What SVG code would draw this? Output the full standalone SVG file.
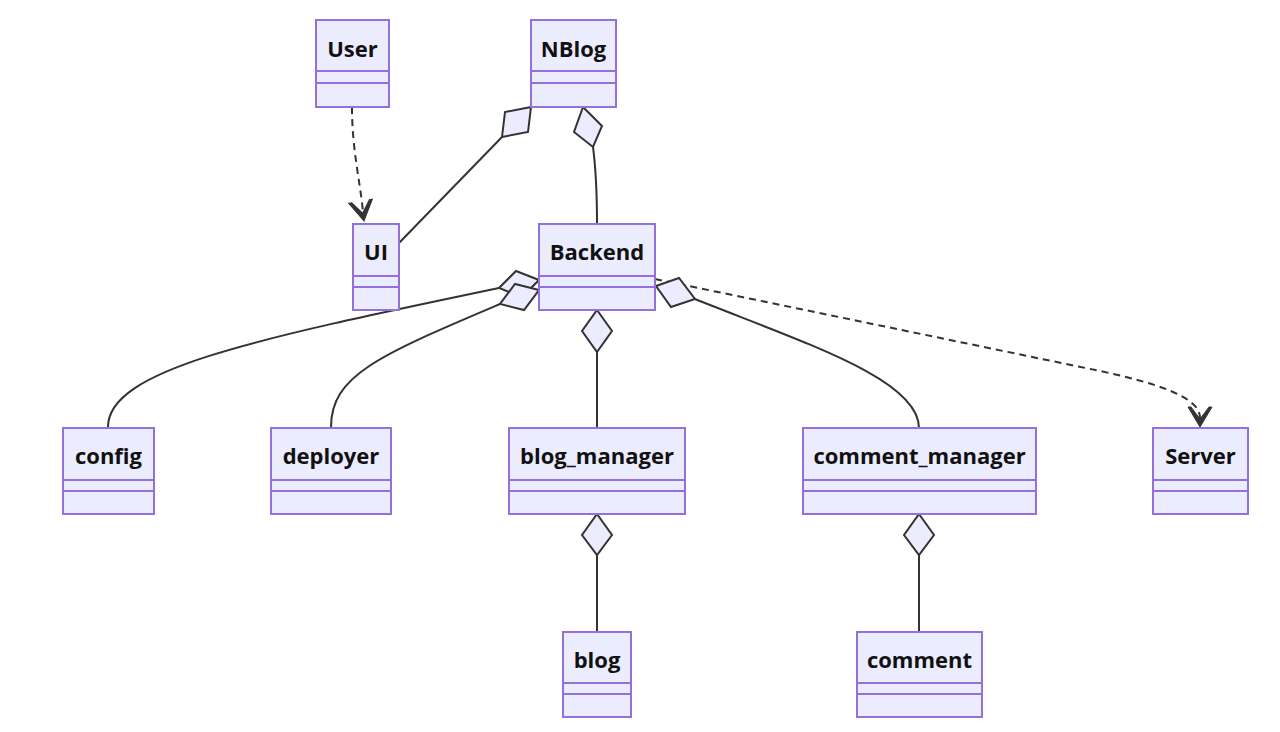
<svg xmlns="http://www.w3.org/2000/svg" xmlns:xlink="http://www.w3.org/1999/xlink" width="1280" height="732" viewBox="0 0 1280 732">
<style>
.box{fill:#ECECFF;stroke:#9370DB;stroke-width:2}
.div{stroke:#9370DB;stroke-width:2}
.lbl{font-family:"Open Sans","Liberation Sans",sans-serif;font-weight:bold;font-size:22px;fill:#111;text-anchor:middle}
.rel{fill:none;stroke:#333;stroke-width:2}
.dash{fill:none;stroke:#333;stroke-width:2;stroke-dasharray:7 5}
.dia{fill:#ECECFF;stroke:#333;stroke-width:2;stroke-linejoin:miter}
.arr{fill:#333;stroke:#333;stroke-width:1;stroke-linejoin:miter}
</style>
<defs>
<path id="dep" d="M0,0 L-12,-20 L-9,-20 L0,-8 L9,-20 L12,-20 Z"/>
</defs>
<rect width="1280" height="732" fill="#ffffff"/>
<g id="connectors">
<path class="dash" d="M352,107 C352,150 360,180 363,212"/>
<use href="#dep" class="arr" transform="translate(364,221) rotate(-10)"/>
<path class="rel" d="M399,243 L502,137"/>
<polygon class="dia" points="531,107 528,132 502,137 505,112"/>
<path class="rel" d="M593,147 C596,170 597,190 597,224"/>
<polygon class="dia" points="583,107 602,126 593,147 574,132"/>
<path class="rel" d="M499,288 C250,340 108,370 108,427"/>
<polygon class="dia" points="539,280 516,271 499,288 522,297"/>
<path class="rel" d="M500,304 C380,355 331,375 331,427"/>
<polygon class="dia" points="539,290 515,284 500,304 524,310"/>
<path class="rel" d="M597,352 L597,428"/>
<polygon class="dia" points="597,310 612,331 597,352 582,331"/>
<path class="rel" d="M695,299 C810,345 919,380 919,428"/>
<path class="dash" d="M655,279 L1100,371 C1170,386 1200,400 1200,418"/>
<polygon class="dia" points="656,286 679,278 695,299 671,307"/>
<use href="#dep" class="arr" transform="translate(1200,427)"/>
<path class="rel" d="M597,555 L597,631"/>
<polygon class="dia" points="597,514 612,535 597,555 582,535"/>
<path class="rel" d="M919,555 L919,631"/>
<polygon class="dia" points="919,514 934,535 919,555 904,535"/>
</g>
<g id="User">
<rect class="box" x="316" y="20" width="73" height="87"/>
<line class="div" x1="316" y1="71" x2="389" y2="71"/>
<line class="div" x1="316" y1="83" x2="389" y2="83"/>
<text class="lbl" x="352.5" y="57">User</text>
</g>
<g id="NBlog">
<rect class="box" x="531" y="20" width="85" height="87"/>
<line class="div" x1="531" y1="71" x2="616" y2="71"/>
<line class="div" x1="531" y1="83" x2="616" y2="83"/>
<text class="lbl" x="573.5" y="57">NBlog</text>
</g>
<g id="UI">
<rect class="box" x="353" y="224" width="46" height="86"/>
<line class="div" x1="353" y1="276" x2="399" y2="276"/>
<line class="div" x1="353" y1="287" x2="399" y2="287"/>
<text class="lbl" x="376" y="260">UI</text>
</g>
<g id="Backend">
<rect class="box" x="539" y="224" width="116" height="86"/>
<line class="div" x1="539" y1="276" x2="655" y2="276"/>
<line class="div" x1="539" y1="287" x2="655" y2="287"/>
<text class="lbl" x="597" y="260">Backend</text>
</g>
<g id="config">
<rect class="box" x="63" y="428" width="91" height="86"/>
<line class="div" x1="63" y1="480" x2="154" y2="480"/>
<line class="div" x1="63" y1="491" x2="154" y2="491"/>
<text class="lbl" x="108.5" y="464">config</text>
</g>
<g id="deployer">
<rect class="box" x="271" y="428" width="120" height="86"/>
<line class="div" x1="271" y1="480" x2="391" y2="480"/>
<line class="div" x1="271" y1="491" x2="391" y2="491"/>
<text class="lbl" x="331" y="464">deployer</text>
</g>
<g id="blog_manager">
<rect class="box" x="509" y="428" width="176" height="86"/>
<line class="div" x1="509" y1="480" x2="685" y2="480"/>
<line class="div" x1="509" y1="491" x2="685" y2="491"/>
<text class="lbl" x="597" y="464">blog_manager</text>
</g>
<g id="comment_manager">
<rect class="box" x="803" y="428" width="233" height="86"/>
<line class="div" x1="803" y1="480" x2="1036" y2="480"/>
<line class="div" x1="803" y1="491" x2="1036" y2="491"/>
<text class="lbl" x="919.5" y="464">comment_manager</text>
</g>
<g id="Server">
<rect class="box" x="1153" y="428" width="95" height="86"/>
<line class="div" x1="1153" y1="480" x2="1248" y2="480"/>
<line class="div" x1="1153" y1="491" x2="1248" y2="491"/>
<text class="lbl" x="1200.5" y="464">Server</text>
</g>
<g id="blog">
<rect class="box" x="563" y="632" width="68" height="85"/>
<line class="div" x1="563" y1="683" x2="631" y2="683"/>
<line class="div" x1="563" y1="694" x2="631" y2="694"/>
<text class="lbl" x="597" y="668">blog</text>
</g>
<g id="comment">
<rect class="box" x="857" y="632" width="125" height="85"/>
<line class="div" x1="857" y1="683" x2="982" y2="683"/>
<line class="div" x1="857" y1="694" x2="982" y2="694"/>
<text class="lbl" x="919.5" y="668">comment</text>
</g>
</svg>
